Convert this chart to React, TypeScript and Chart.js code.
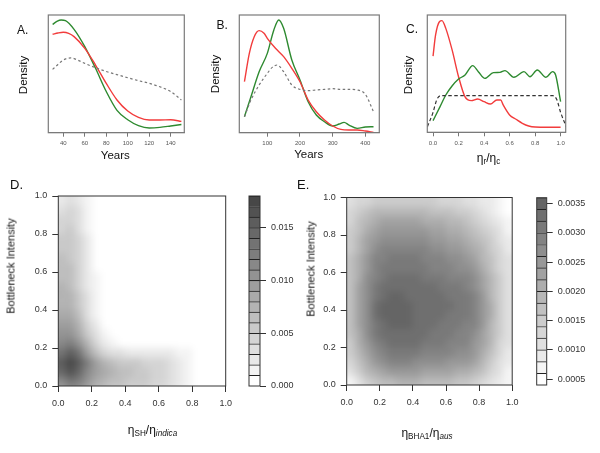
import React, { useEffect, useRef } from "react";
import { Chart, registerables } from "chart.js";
Chart.register(...registerables);

const FONT = "'Liberation Sans', Arial, Helvetica, sans-serif";
const W = 600;
const H = 453;

// ---------------- Panel A (Years) ----------------
const aGreenX = [30, 34, 38, 42, 50, 60, 70, 80, 90, 100, 110, 120, 130, 140, 150];
const aGreenY = [92, 94.6, 95.8, 95.2, 87.8, 73.1, 54.7, 35, 19, 11, 6, 4, 4.5, 5.7, 7];
const aRedX = [30, 35, 40, 45, 50, 60, 70, 80, 90, 100, 110, 120, 130, 140, 150];
const aRedY = [83.6, 84.7, 85.3, 84.4, 81.6, 71.7, 57.5, 41.9, 27.8, 18.4, 13, 10.8, 10.8, 11, 9.6];
const aPriorX = [30, 35, 40, 47, 55, 60, 70, 80, 90, 100, 110, 120, 130, 140, 150];
const aPriorY = [53.8, 58, 61.8, 63.5, 61, 58.9, 55.2, 52, 49.3, 46.7, 44.2, 42, 39, 35, 27.8];
const aTicks = [40, 60, 80, 100, 120, 140];

// ---------------- Panel B (Years) ----------------
const bGreenX = [30, 50, 75, 100, 120, 135, 150, 175, 200, 225, 250, 275, 300, 320, 335, 350, 375, 400, 425];
const bGreenY = [13.6, 30.6, 51.8, 67.4, 87.3, 95.8, 88.7, 61.8, 44.8, 26.3, 15, 9.3, 5.7, 7.4, 8.8, 6.5, 3.7, 4.8, 5.1];
const bRedX = [30, 45, 60, 75, 90, 100, 125, 150, 175, 200, 225, 250, 275, 300, 325, 350, 375, 400, 425];
const bRedY = [43.3, 67.4, 81.6, 86.7, 84.4, 80.2, 71.7, 64.6, 54.7, 43.3, 27.8, 17.8, 10.8, 5.7, 2.8, 2.3, 2.3, 1.4, 0.3];
const bPriorX = [30, 50, 75, 100, 115, 130, 150, 175, 200, 225, 250, 275, 300, 325, 350, 375, 400, 425];
const bPriorY = [13.6, 27.8, 40.5, 50.4, 55.5, 57.5, 51.8, 40.5, 36.8, 35.7, 36.3, 36.8, 37.4, 36.8, 36.8, 36.3, 32.6, 17.8];
const bTicks = [100, 200, 300, 400];

// ---------------- Panel C (eta_r / eta_c) ----------------
const cRedX = [0, 0.02, 0.05, 0.07, 0.1, 0.15, 0.2, 0.25, 0.3, 0.35, 0.4, 0.45, 0.5, 0.53, 0.55, 0.6, 0.65, 0.7, 0.75, 0.8, 0.9, 1.0];
const cRedY = [65, 83, 94.3, 95.2, 88.6, 70, 47.4, 30.4, 27, 28.4, 26.1, 24.1, 27.6, 27.6, 23.3, 14.8, 11.1, 7.7, 5.4, 4.5, 4.3, 4.3];
const cGreenX = [0, 0.055, 0.1, 0.149, 0.198, 0.251, 0.311, 0.355, 0.407, 0.473, 0.525, 0.564, 0.634, 0.713, 0.76, 0.817, 0.885, 0.937, 0.961, 1.0];
const cGreenY = [9.9, 21.9, 31.8, 39.5, 45.2, 48.9, 56.8, 51.7, 46, 50.9, 51.1, 52.6, 46.9, 51.7, 47.4, 53.1, 46.9, 51.7, 48.9, 26.1];
const cPriorX = [-0.044, 0, 0.03, 0.06, 0.94, 0.97, 1.0, 1.044];
const cPriorY = [4.8, 17, 28, 31.2, 31.2, 28, 17, 4.8];
const cTicks = [0, 0.2, 0.4, 0.6, 0.8, 1.0];

// ---------------- Panels D / E (density levels on a 20x20 grid) ----------------
const gridCenters = [0.025, 0.075, 0.125, 0.175, 0.225, 0.275, 0.325, 0.375, 0.425, 0.475,
  0.525, 0.575, 0.625, 0.675, 0.725, 0.775, 0.825, 0.875, 0.925, 0.975];
const unitTicks = [0, 0.2, 0.4, 0.6, 0.8, 1.0];

// rows from top (y = 0.975) to bottom (y = 0.025); values = contour band index
const dLevels = [
  [2, 3, 2, 1, 0, 0, 0, 0, 0, 0, 0, 0, 0, 0, 0, 0, 0, 0, 0, 0],
  [3, 4, 3, 1, 0, 0, 0, 0, 0, 0, 0, 0, 0, 0, 0, 0, 0, 0, 0, 0],
  [4, 4, 3, 1, 0, 0, 0, 0, 0, 0, 0, 0, 0, 0, 0, 0, 0, 0, 0, 0],
  [4, 5, 3, 1, 0, 0, 0, 0, 0, 0, 0, 0, 0, 0, 0, 0, 0, 0, 0, 0],
  [5, 5, 4, 2, 0, 0, 0, 0, 0, 0, 0, 0, 0, 0, 0, 0, 0, 0, 0, 0],
  [5, 5, 4, 2, 0, 0, 0, 0, 0, 0, 0, 0, 0, 0, 0, 0, 0, 0, 0, 0],
  [6, 5, 4, 2, 0, 0, 0, 0, 0, 0, 0, 0, 0, 0, 0, 0, 0, 0, 0, 0],
  [6, 6, 4, 2, 0, 0, 0, 0, 0, 0, 0, 0, 0, 0, 0, 0, 0, 0, 0, 0],
  [6, 6, 4, 2, 1, 0, 0, 0, 0, 0, 0, 0, 0, 0, 0, 0, 0, 0, 0, 0],
  [7, 6, 4, 2, 1, 0, 0, 0, 0, 0, 0, 0, 0, 0, 0, 0, 0, 0, 0, 0],
  [7, 7, 5, 3, 1, 0, 0, 0, 0, 0, 0, 0, 0, 0, 0, 0, 0, 0, 0, 0],
  [7, 7, 5, 3, 1, 0, 0, 0, 0, 0, 0, 0, 0, 0, 0, 0, 0, 0, 0, 0],
  [8, 8, 6, 3, 1, 0, 0, 0, 0, 0, 0, 0, 0, 0, 0, 0, 0, 0, 0, 0],
  [9, 9, 7, 4, 2, 0, 0, 0, 0, 0, 0, 0, 0, 0, 0, 0, 0, 0, 0, 0],
  [10, 10, 8, 5, 3, 1, 0, 0, 0, 0, 0, 0, 0, 0, 0, 0, 0, 0, 0, 0],
  [11, 12, 10, 7, 4, 2, 1, 0, 0, 0, 0, 0, 0, 0, 0, 0, 0, 0, 0, 0],
  [13, 15, 13, 9, 6, 4, 3, 3, 2, 2, 2, 2, 2, 2, 1, 1, 0, 0, 0, 0],
  [15, 17, 15, 12, 9, 7, 6, 5, 5, 5, 4, 4, 4, 3, 2, 1, 0, 0, 0, 0],
  [14, 16, 14, 11, 9, 8, 7, 6, 6, 5, 5, 4, 4, 3, 2, 1, 0, 0, 0, 0],
  [11, 13, 12, 10, 8, 7, 6, 6, 5, 5, 5, 4, 4, 3, 2, 1, 0, 0, 0, 0],
];

const eLevels = [
  [3, 4, 4, 5, 5, 5, 5, 5, 5, 5, 5, 4, 4, 4, 3, 3, 2, 2, 1, 0],
  [4, 5, 6, 7, 7, 7, 7, 7, 7, 7, 6, 6, 6, 5, 5, 4, 3, 2, 1, 0],
  [4, 6, 7, 8, 9, 9, 9, 9, 9, 8, 8, 8, 7, 7, 6, 5, 4, 3, 2, 1],
  [5, 6, 8, 9, 10, 10, 10, 10, 10, 10, 9, 9, 8, 8, 7, 6, 5, 4, 3, 1],
  [5, 7, 9, 10, 11, 11, 11, 11, 11, 11, 10, 10, 9, 9, 8, 7, 6, 5, 3, 2],
  [5, 7, 9, 11, 12, 12, 12, 12, 12, 12, 11, 11, 10, 10, 9, 8, 7, 5, 4, 2],
  [6, 8, 10, 12, 12, 13, 13, 13, 13, 12, 12, 12, 11, 11, 10, 9, 7, 6, 4, 3],
  [6, 8, 10, 12, 13, 13, 13, 13, 13, 13, 12, 12, 12, 11, 11, 10, 8, 6, 4, 3],
  [6, 8, 11, 12, 13, 14, 14, 14, 14, 13, 13, 13, 12, 12, 12, 11, 9, 7, 5, 3],
  [6, 9, 11, 13, 14, 14, 14, 14, 14, 14, 14, 13, 13, 13, 12, 11, 9, 7, 5, 3],
  [6, 9, 11, 13, 14, 15, 15, 14, 14, 14, 14, 14, 13, 13, 13, 12, 10, 7, 5, 3],
  [6, 9, 11, 14, 15, 15, 15, 15, 14, 14, 14, 14, 14, 13, 13, 12, 10, 8, 5, 3],
  [6, 9, 11, 14, 15, 15, 15, 15, 14, 14, 14, 14, 13, 13, 13, 12, 10, 8, 5, 3],
  [6, 9, 11, 13, 14, 15, 15, 15, 14, 14, 14, 13, 13, 13, 12, 12, 10, 7, 5, 3],
  [6, 8, 11, 13, 14, 14, 14, 14, 14, 14, 13, 13, 13, 12, 12, 11, 9, 7, 5, 3],
  [5, 8, 10, 12, 13, 14, 14, 14, 14, 13, 13, 13, 12, 12, 12, 10, 9, 7, 4, 3],
  [5, 7, 9, 11, 12, 13, 13, 13, 13, 12, 12, 12, 12, 11, 11, 10, 8, 6, 4, 2],
  [4, 6, 8, 10, 11, 12, 12, 12, 11, 11, 11, 11, 10, 10, 10, 9, 7, 5, 3, 2],
  [3, 5, 7, 8, 9, 10, 10, 10, 10, 9, 9, 9, 9, 8, 8, 7, 6, 4, 3, 1],
  [1, 3, 5, 6, 7, 7, 8, 8, 8, 7, 7, 7, 7, 6, 6, 5, 4, 3, 2, 1],
];

// colour-key breaks
const dBreaks = [0, 0.001, 0.002, 0.003, 0.004, 0.005, 0.006, 0.007, 0.008, 0.009,
  0.010, 0.011, 0.012, 0.013, 0.014, 0.015, 0.016, 0.017, 0.018];
const dKeyTicks = [0, 0.005, 0.010, 0.015];
const eBreaks = [0.0004, 0.0006, 0.0008, 0.0010, 0.0012, 0.0014, 0.0016, 0.0018, 0.0020,
  0.0022, 0.0024, 0.0026, 0.0028, 0.0030, 0.0032, 0.0034, 0.0036];
const eKeyTicks = [0.0005, 0.0010, 0.0015, 0.0020, 0.0025, 0.0030, 0.0035];

// ---------------- styles / layout ----------------
const GREEN = "#2e8a30";
const RED = "#f23c3c";
const dGray = (k: number) => { const v = Math.round(255 - k * 10.8); return `rgb(${v},${v},${v})`; };
const eGray = (k: number) => { const v = Math.round(255 - k * 10.3); return `rgb(${v},${v},${v})`; };

type Box = { l: number; t: number; r: number; b: number };
const boxA: Box = { l: 48.3, t: 15, r: 184.3, b: 132.7 };
const boxB: Box = { l: 239.3, t: 15, r: 379.3, b: 132.7 };
const boxC: Box = { l: 427.3, t: 15, r: 565.7, b: 132.3 };
const boxD: Box = { l: 58.3, t: 196, r: 225.7, b: 386 };
const keyD: Box = { l: 249, t: 196, r: 260, b: 386 };
const boxE: Box = { l: 346.7, t: 197.5, r: 512.2, b: 385 };
const keyE: Box = { l: 536.7, t: 197.7, r: 546.7, b: 385 };

const XH_SMALL = 16;
const XH_BIG = 30;
const YW = 30;
const KEYW = 40;
const SMOOTH = 3.5;

function boxPlugin(color: string, width: number) {
  return {
    id: "boxOutline",
    afterDraw(chart: any) {
      const { left, top, right, bottom } = chart.chartArea;
      const ctx = chart.ctx;
      ctx.save();
      ctx.strokeStyle = color;
      ctx.lineWidth = width;
      ctx.strokeRect(left, top, right - left, bottom - top);
      ctx.restore();
    },
  };
}

// softens the cell edges of the filled-contour panels (rendering only)
function smoothPlugin(radius: number) {
  return {
    id: "smoothCells",
    afterDatasetsDraw(chart: any) {
      const { left, top, right, bottom } = chart.chartArea;
      const x0 = Math.ceil(left), y0 = Math.ceil(top);
      const x1 = Math.floor(right), y1 = Math.floor(bottom);
      const w = x1 - x0, h = y1 - y0;
      const p = Math.ceil(radius * 3);
      const cv = chart.canvas as HTMLCanvasElement;
      const src = document.createElement("canvas");
      src.width = w + 2 * p;
      src.height = h + 2 * p;
      const s = src.getContext("2d") as CanvasRenderingContext2D;
      s.fillStyle = "#fff";
      s.fillRect(0, 0, src.width, src.height);
      s.drawImage(cv, x0, y0, w, h, p, p, w, h);
      s.drawImage(cv, x0, y0, w, 1, p, 0, w, p);
      s.drawImage(cv, x0, y1 - 1, w, 1, p, p + h, w, p);
      s.drawImage(src, p, 0, 1, h + 2 * p, 0, 0, p, h + 2 * p);
      s.drawImage(src, p + w - 1, 0, 1, h + 2 * p, p + w, 0, p, h + 2 * p);
      const out = document.createElement("canvas");
      out.width = src.width;
      out.height = src.height;
      const o = out.getContext("2d") as CanvasRenderingContext2D;
      o.filter = `blur(${radius}px)`;
      o.drawImage(src, 0, 0);
      const ctx = chart.ctx;
      ctx.save();
      ctx.clearRect(x0, y0, w, h);
      ctx.drawImage(out, p, p, w, h, x0, y0, w, h);
      ctx.restore();
    },
  };
}

type Series = { x: number[]; y: number[]; color: string; width: number; dash?: number[] };

function lineConfig(box: Box, xMin: number, xMax: number, ticks: number[], fmt: (v: number) => string, series: Series[]) {
  return {
    type: "line",
    data: {
      datasets: series.map((s) => ({
        data: s.x.map((x, i) => ({ x, y: s.y[i] })),
        borderColor: s.color,
        borderWidth: s.width,
        borderDash: s.dash || [],
        pointRadius: 0,
        cubicInterpolationMode: "monotone",
        fill: false,
      })),
    },
    options: {
      responsive: false,
      animation: false,
      devicePixelRatio: 1,
      events: [],
      layout: { padding: { left: box.l, top: box.t, right: W - box.r, bottom: H - box.b - XH_SMALL } },
      plugins: { legend: { display: false }, tooltip: { enabled: false } },
      scales: {
        x: {
          type: "linear",
          min: xMin,
          max: xMax,
          afterBuildTicks: (s: any) => { s.ticks = ticks.map((v) => ({ value: v })); },
          afterFit: (s: any) => { s.height = XH_SMALL; },
          ticks: { font: { family: FONT, size: 6 }, color: "#555", padding: 3, maxRotation: 0, autoSkip: false, callback: (v: any) => fmt(Number(v)) },
          grid: { drawOnChartArea: false, drawTicks: true, tickLength: 4, color: "#777", lineWidth: 1 },
          border: { display: true, color: "#777", width: 1 },
        },
        y: { display: false, min: 0, max: 100 },
      },
    },
    plugins: [boxPlugin("#7a7a7a", 1.2)],
  };
}

function heatConfig(box: Box, levels: number[][], gray: (k: number) => string, skipZero: boolean) {
  const half = (gridCenters[1] - gridCenters[0]) / 2;
  const datasets = levels.map((row, r) => {
    const yc = gridCenters[gridCenters.length - 1 - r];
    const pts: any[] = [];
    const cols: string[] = [];
    row.forEach((k, c) => {
      if (skipZero && k === 0) return;
      pts.push({ x: gridCenters[c], y: [yc - half, yc + half] });
      cols.push(gray(k));
    });
    return { data: pts, backgroundColor: cols, borderWidth: 0, grouped: false, barPercentage: 1, categoryPercentage: 1 };
  });
  const axisCommon = {
    type: "linear",
    min: 0,
    max: 1,
    offset: false,
    afterBuildTicks: (s: any) => { s.ticks = unitTicks.map((v) => ({ value: v })); },
    grid: { offset: false, drawOnChartArea: false, drawTicks: true, tickLength: 6, color: "#333", lineWidth: 1 },
    border: { display: false },
  };
  return {
    type: "bar",
    data: { datasets },
    options: {
      responsive: false,
      animation: false,
      devicePixelRatio: 1,
      events: [],
      layout: { padding: { left: box.l - YW, top: box.t, right: W - box.r, bottom: H - box.b - XH_BIG } },
      plugins: { legend: { display: false }, tooltip: { enabled: false } },
      scales: {
        x: {
          ...axisCommon,
          afterFit: (s: any) => { s.height = XH_BIG; },
          ticks: { font: { family: FONT, size: 9 }, color: "#333", padding: 6, maxRotation: 0, autoSkip: false, callback: (v: any) => Number(v).toFixed(1) },
        },
        y: {
          ...axisCommon,
          afterFit: (s: any) => { s.width = YW; },
          ticks: { font: { family: FONT, size: 9 }, color: "#333", padding: 5, autoSkip: false, callback: (v: any) => Number(v).toFixed(1) },
        },
      },
    },
    plugins: [smoothPlugin(SMOOTH), boxPlugin("#333", 1)],
  };
}

function keyConfig(box: Box, breaks: number[], gray: (k: number) => string, ticks: number[], digits: number) {
  const datasets = breaks.slice(0, -1).map((lo, k) => ({
    data: [[lo, breaks[k + 1]]],
    backgroundColor: gray(k),
    borderColor: "#222",
    borderWidth: { top: 1, left: 0, right: 0, bottom: 0 },
    borderSkipped: false,
    grouped: false,
    barPercentage: 1,
    categoryPercentage: 1,
  }));
  return {
    type: "bar",
    data: { labels: [""], datasets },
    options: {
      responsive: false,
      animation: false,
      devicePixelRatio: 1,
      events: [],
      layout: { padding: { left: box.l, top: box.t, right: W - box.r - KEYW, bottom: H - box.b } },
      plugins: { legend: { display: false }, tooltip: { enabled: false } },
      scales: {
        x: { display: false },
        y: {
          type: "linear",
          position: "right",
          min: breaks[0],
          max: breaks[breaks.length - 1],
          afterBuildTicks: (s: any) => { s.ticks = ticks.map((v) => ({ value: v })); },
          afterFit: (s: any) => { s.width = KEYW; },
          ticks: { font: { family: FONT, size: 9 }, color: "#333", padding: 5, autoSkip: false, callback: (v: any) => Number(v).toFixed(digits) },
          grid: { drawOnChartArea: false, drawTicks: true, tickLength: 6, color: "#333", lineWidth: 1 },
          border: { display: false },
        },
      },
    },
    plugins: [boxPlugin("#333", 1)],
  };
}

const configs: (() => any)[] = [
  () => lineConfig(boxA, 26, 152.7, aTicks, (v) => String(v), [
    { x: aPriorX, y: aPriorY, color: "#777", width: 1.2, dash: [2.5, 2.5] },
    { x: aRedX, y: aRedY, color: RED, width: 1.4 },
    { x: aGreenX, y: aGreenY, color: GREEN, width: 1.4 },
  ]),
  () => lineConfig(boxB, 14.3, 442.7, bTicks, (v) => String(v), [
    { x: bPriorX, y: bPriorY, color: "#777", width: 1.2, dash: [2.5, 2.5] },
    { x: bRedX, y: bRedY, color: RED, width: 1.4 },
    { x: bGreenX, y: bGreenY, color: GREEN, width: 1.4 },
  ]),
  () => lineConfig(boxC, -0.045, 1.04, cTicks, (v) => v.toFixed(1), [
    { x: cPriorX, y: cPriorY, color: "#333", width: 1.2, dash: [3.5, 2.5] },
    { x: cGreenX, y: cGreenY, color: GREEN, width: 1.4 },
    { x: cRedX, y: cRedY, color: RED, width: 1.4 },
  ]),
  () => heatConfig(boxD, dLevels, dGray, true),
  () => keyConfig(keyD, dBreaks, dGray, dKeyTicks, 3),
  () => heatConfig(boxE, eLevels, eGray, false),
  () => keyConfig(keyE, eBreaks, eGray, eKeyTicks, 4),
];

function ChartLayer({ make }: { make: () => any }) {
  const ref = useRef<HTMLCanvasElement>(null);
  useEffect(() => {
    const chart = new Chart(ref.current as HTMLCanvasElement, make());
    return () => chart.destroy();
  }, []);
  return (
    <canvas
      ref={ref}
      width={W}
      height={H}
      style={{ position: "absolute", left: 0, top: 0, width: W, height: H }}
    />
  );
}

function Txt({ x, base, fs, center, children }: { x: number; base: number; fs: number; center?: boolean; children: any }) {
  return (
    <div
      style={{
        position: "absolute",
        left: x,
        top: base - 0.83 * fs,
        fontSize: fs,
        lineHeight: `${fs}px`,
        fontFamily: FONT,
        whiteSpace: "nowrap",
        color: "#111",
        transform: center ? "translateX(-50%)" : undefined,
      }}
    >
      {children}
    </div>
  );
}

function VTxt({ cx, cy, fs, children }: { cx: number; cy: number; fs: number; children: any }) {
  return (
    <div
      style={{
        position: "absolute",
        left: cx,
        top: cy,
        fontSize: fs,
        lineHeight: `${fs}px`,
        fontFamily: FONT,
        whiteSpace: "nowrap",
        color: "#111",
        transform: "translate(-50%, -50%) rotate(-90deg)",
      }}
    >
      {children}
    </div>
  );
}

const subStyle: React.CSSProperties = { fontSize: "0.68em", verticalAlign: "-0.2em" };

export default function App() {
  return (
    <div style={{ position: "absolute", left: 0, top: 0, width: W, height: H, background: "#fff", overflow: "hidden" }}>
      {configs.map((make, i) => (
        <ChartLayer key={i} make={make} />
      ))}
      <Txt x={17} base={33.5} fs={12}>A.</Txt>
      <Txt x={216.5} base={28.5} fs={12}>B.</Txt>
      <Txt x={406} base={33} fs={12}>C.</Txt>
      <Txt x={10} base={188.5} fs={13}>D.</Txt>
      <Txt x={297} base={188.5} fs={13}>E.</Txt>

      <VTxt cx={23.5} cy={75} fs={11.5}>Density</VTxt>
      <VTxt cx={216} cy={74} fs={11.5}>Density</VTxt>
      <VTxt cx={408.5} cy={75} fs={11.5}>Density</VTxt>

      <Txt x={115.3} base={160} fs={11.5} center>Years</Txt>
      <Txt x={308.7} base={159} fs={11.5} center>Years</Txt>
      <Txt x={488.5} base={162} fs={12} center>
        η<span style={subStyle}>r</span>/η<span style={subStyle}>c</span>
      </Txt>

      <VTxt cx={10.5} cy={266} fs={11}>Bottleneck Intensity</VTxt>
      <VTxt cx={310.5} cy={269} fs={11}>Bottleneck Intensity</VTxt>

      <Txt x={152.5} base={434} fs={12} center>
        η<span style={subStyle}>SH</span>/η<span style={{ ...subStyle, fontStyle: "italic" }}>indica</span>
      </Txt>
      <Txt x={427} base={437} fs={12} center>
        η<span style={subStyle}>BHA1</span>/η<span style={{ ...subStyle, fontStyle: "italic" }}>aus</span>
      </Txt>
    </div>
  );
}
